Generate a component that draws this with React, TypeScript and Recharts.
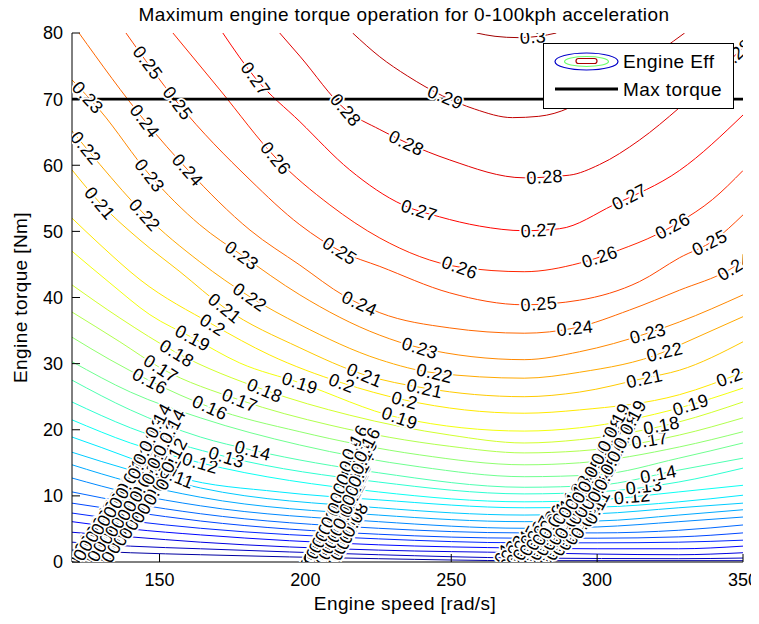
import React from "react";
import { LineChart, Line, XAxis, YAxis } from "recharts";

const FONT = "'Liberation Sans', Arial, Helvetica, sans-serif";

const speedTicks = [150, 200, 250, 300, 350];
const torqueTicks = [0, 10, 20, 30, 40, 50, 60, 70, 80];
const maxTorque = [[120, 70], [350, 70]];

const levels = [
  0.01, 0.02, 0.03, 0.04, 0.05, 0.06, 0.07, 0.08, 0.09, 0.1,
  0.11, 0.12, 0.13, 0.14, 0.15, 0.16, 0.17, 0.18, 0.19, 0.2,
  0.21, 0.22, 0.23, 0.24, 0.25, 0.26, 0.27, 0.28, 0.29, 0.3,
];

// efficiency contours, [speed rad/s, torque Nm]
const c01 = [[120, 1.8], [140, 1.4], [164, 1.1], [225, 0.5], [275, 0.2], [350, 0.2]];
const c02 = [[120, 3.0], [140, 2.4], [164, 2.0], [225, 1.1], [275, 0.6], [328, 0.5], [350, 0.6]];
const c03 = [[120, 4.5], [140, 3.8], [164, 3.0], [225, 1.8], [275, 1.4], [300, 1.2], [328, 1.1], [350, 1.4]];
const c04 = [[120, 6.1], [140, 5.0], [164, 4.1], [225, 2.6], [275, 2.1], [300, 2.0], [328, 2.0], [350, 2.4]];
const c05 = [[120, 7.4], [140, 6.2], [164, 5.1], [225, 3.5], [275, 2.9], [300, 2.9], [328, 3.0], [350, 3.3]];
const c06 = [[120, 8.9], [140, 7.6], [164, 6.2], [225, 4.2], [275, 3.6], [300, 3.6], [328, 3.8], [350, 4.4]];
const c07 = [[120, 10.6], [140, 8.9], [164, 7.3], [225, 5.1], [275, 4.4], [300, 4.4], [328, 4.8], [350, 5.6]];
const c08 = [[120, 12.7], [140, 10.4], [164, 8.5], [225, 6.1], [275, 5.1], [300, 5.3], [328, 6.1], [350, 6.8]];
const c09 = [[120, 14.7], [140, 12.1], [164, 9.8], [225, 7.1], [275, 6.1], [300, 6.2], [328, 7.1], [350, 7.9]];
const c10 = [[120, 16.6], [140, 13.9], [164, 11.2], [225, 8.2], [275, 7.1], [300, 7.3], [328, 8.2], [350, 8.9]];
const c11 = [[120, 18.9], [140, 15.7], [156, 12.9], [191, 10.6], [225, 9.4], [275, 8.2], [300, 8.3], [328, 9.1], [350, 10.1]];
const c12 = [[120, 21.5], [140, 18.0], [164, 15.0], [225, 10.6], [275, 9.1], [300, 9.4], [328, 10.6], [350, 11.6]];
const c13 = [[120, 24.2], [140, 20.3], [173, 15.9], [225, 12.1], [275, 10.3], [300, 10.6], [328, 12.1], [350, 14.2]];
const c14 = [[120, 27.5], [140, 23.0], [164, 18.9], [182, 16.9], [225, 13.5], [275, 11.3], [300, 11.6], [328, 13.9], [350, 15.7]];
const c15 = [[120, 30.3], [140, 25.7], [164, 21.8], [198, 17.7], [239, 14.4], [275, 12.9], [300, 13.2], [328, 15.7], [350, 18.0]];
const c16 = [[120, 34.0], [133, 30.6], [146.7, 27.4], [167.3, 23.4], [198.1, 19.7], [239.2, 16.2], [275, 14.7], [294, 15.0], [328.2, 17.4], [350, 19.7]];
const c17 = [[120, 37.8], [136.4, 33.3], [150.5, 29.3], [177.5, 24.5], [208.4, 20.7], [249.5, 17.5], [275, 16.5], [294, 16.8], [328.2, 19.2], [350, 21.8]];
const c18 = [[120, 41.9], [136.4, 36.9], [156, 31.6], [186.1, 26.0], [215.2, 22.2], [249.5, 19.2], [275, 18.0], [294, 18.5], [328.2, 21.2], [350, 24.2]];
const c19 = [[120, 47.0], [133, 42.2], [146.7, 37.4], [161.4, 33.9], [177.5, 30.1], [198.1, 27.1], [232.3, 21.8], [275, 19.8], [294, 20.3], [328.2, 23.3], [350, 26.3]];
const c20 = [[120, 52.0], [129.6, 48.0], [143.3, 42.7], [168.3, 35.9], [187.8, 31.3], [212.5, 27.1], [234, 24.5], [275, 22.5], [294, 23.0], [328.2, 25.3], [350, 28.7]];
const c21 = [[120, 59.3], [129.6, 54.3], [143.3, 48.7], [157, 43.9], [172.4, 38.4], [198.1, 32.4], [220.3, 28.3], [240.9, 26.3], [275, 25.0], [294, 25.7], [316.2, 27.8], [328.2, 29.0], [350, 33.3]];
const c22 = [[120, 65.2], [129.6, 60.1], [145, 52.5], [163.8, 45.4], [181, 40.1], [198.1, 35.9], [225.5, 30.6], [244.3, 28.6], [275, 27.8], [294, 28.7], [323.1, 31.8], [328.2, 32.8], [350, 37.1]];
const c23 = [[120, 72.9], [129.6, 68.3], [146.7, 58.5], [163.8, 51.0], [178.2, 46.4], [198.1, 40.4], [225.5, 34.3], [239.2, 32.4], [275, 30.6], [294, 31.8], [317.3, 34.6], [328.2, 36.3], [350, 40.4]];
const c24 = [[122.4, 80], [145, 66.7], [159.7, 59.3], [181, 50.2], [198.1, 44.9], [213.5, 40.2], [225.5, 37.7], [249.5, 35.4], [275, 34.6], [292.3, 35.4], [311.1, 38.1], [328.2, 41.1], [345.3, 44.2], [350, 45.5]];
const c25 = [[138.5, 80], [156.3, 69.4], [181, 57.8], [198.1, 51.0], [212.5, 46.9], [225.5, 44.7], [249.5, 40.7], [275, 38.9], [294, 39.6], [314.5, 42.4], [328.2, 46.0], [340.2, 48.7], [350, 52.5]];
const c26 = [[154.6, 80], [170.7, 71.4], [189.9, 61.1], [208.4, 54.0], [225.5, 49.0], [252.9, 44.6], [275, 43.9], [294, 45.2], [307.7, 47.2], [320.3, 49.5], [328.2, 51.4], [339.5, 54.8], [350, 59.2]];
const c27 = [[171.7, 80], [183, 73.1], [198.1, 66.6], [215.2, 59.3], [233.4, 54.0], [246, 52.2], [259.7, 50.8], [275, 50.1], [287.1, 50.4], [305.6, 54.0], [328.2, 59.2], [350, 67.6]];
const c28 = [[191.2, 80], [198.1, 76.5], [213.8, 68.4], [225.5, 65.4], [234.7, 63.4], [249.5, 60.8], [275, 58.1], [290.5, 58.5], [300.8, 60.1], [314.5, 63.8], [328.2, 68.7], [350, 77.8]];
const c29 = [[216.2, 80], [225.5, 76.4], [235, 73.5], [247, 70.5], [258, 68.5], [271, 67.2], [280, 67.4], [290.5, 68.7], [300.8, 71.6], [314.5, 75.2], [330, 80]];
const c30 = [[258.7, 80], [265, 79.5], [273, 79.3], [280, 79.5], [286, 80]];

const contourPts = [
  c01, c02, c03, c04, c05, c06, c07, c08, c09, c10,
  c11, c12, c13, c14, c15, c16, c17, c18, c19, c20,
  c21, c22, c23, c24, c25, c26, c27, c28, c29, c30,
];

// clabel spots that follow the line, [level, speed]
const lineLabels: [number, number][] = [
  [0.3, 278],
  [0.29, 248],
  [0.28, 213.8], [0.28, 234.7], [0.28, 282], [0.28, 347.5],
  [0.27, 183], [0.27, 239], [0.27, 280], [0.27, 311],
  [0.26, 189.9], [0.26, 252.9], [0.26, 300.8], [0.26, 325.8],
  [0.25, 146], [0.25, 156.3], [0.25, 211.8], [0.25, 280], [0.25, 338.5],
  [0.24, 145], [0.24, 159.7], [0.24, 218.6], [0.24, 292.3], [0.24, 347],
  [0.23, 125.5], [0.23, 146.7], [0.23, 178.2], [0.23, 239.2], [0.23, 317.3],
  [0.22, 124.8], [0.22, 145], [0.22, 181], [0.22, 244.3], [0.22, 323.1],
  [0.21, 129.6], [0.21, 172.4], [0.21, 220.3], [0.21, 240.9], [0.21, 316.2],
  [0.2, 168.3], [0.2, 212.5], [0.2, 234], [0.2, 345.3],
  [0.19, 161.4], [0.19, 198.1], [0.19, 232.3], [0.19, 332],
  [0.18, 156], [0.18, 186.1], [0.18, 322],
  [0.17, 150.5], [0.17, 177.5], [0.17, 318],
  [0.16, 146.7], [0.16, 167.3],
  [0.14, 182], [0.14, 321],
  [0.13, 173], [0.13, 316],
  [0.12, 164], [0.12, 312],
  [0.11, 156],
];

// piled-up labels at the three gear-change bands, one set per level from 0.01
const band1 = [
  [122.7, 127.5, 132.3], [124.8, 129.6, 134.4], [126.8, 131.6, 136.4], [128.9, 133.7, 138.5], [130.9, 135.7, 140.5],
  [133.0, 137.8, 142.6], [135.1, 139.9, 144.7], [137.1, 141.9, 146.7], [139.2, 144.0, 148.8], [141.2, 146.0, 150.8],
  [143.3, 148.1, 152.9], [145.3, 150.1, 154.9], [147.4, 152.2], [149.5, 154.3],
];
const band2 = [
  [201.5, 205.6, 209.7], [202.5, 206.6, 210.7], [203.6, 207.7, 211.8], [204.6, 208.7, 212.8], [205.6, 209.7, 213.8],
  [206.6, 210.8, 214.9], [207.7, 211.8, 215.9], [208.7, 212.8, 216.9], [209.7, 213.8], [210.8, 214.9],
  [211.8, 215.9], [212.8, 216.9], [213.8, 218.0], [214.9, 219.0], [215.9, 220.0],
  [216.9, 221.0],
];
const band3 = [
  [266.6, 272.1, 277.6], [268.8, 274.3, 279.8], [271.1, 276.6, 282.1], [273.3, 278.8, 284.3], [275.5, 281.0, 286.5],
  [277.8, 283.3, 288.8], [280.0, 285.5, 291.0], [282.2, 287.7, 293.2], [284.4, 289.9, 295.4], [286.7, 292.2, 297.7],
  [288.9, 294.4, 299.9], [291.1, 296.6], [293.4, 298.9], [295.6, 301.1], [297.8, 303.3],
  [300.0, 305.5], [302.3, 307.8], [304.5, 310.0], [306.7, 312.2],
];

// matlab jet colormap
function jet(level: number) {
  const t = level / 0.31;
  const c = (v: number) => Math.round(255 * Math.max(0, Math.min(1, v)));
  return `rgb(${c(1.5 - Math.abs(4 * t - 3))},${c(1.5 - Math.abs(4 * t - 2))},${c(1.5 - Math.abs(4 * t - 1))})`;
}

const fmt = (v: number) => String(Number(v.toFixed(2)));

function labelDot(level: number, spots: number[], steep: number[]) {
  return (props: any) => {
    const { index, points } = props;
    if (index !== 0 || !points || points.length < 2) return <g key={`e${index}`} />;
    const out: React.ReactNode[] = [];
    const put = (sx: number, band: boolean, key: string) => {
      for (let i = 0; i < points.length - 1; i++) {
        const a = points[i];
        const b = points[i + 1];
        const ax = a.payload.x;
        const bx = b.payload.x;
        if (sx < ax || sx > bx) continue;
        const t = bx === ax ? 0 : (sx - ax) / (bx - ax);
        const px = a.x + t * (b.x - a.x);
        const py = a.y + t * (b.y - a.y);
        const ang = band ? -62 : (Math.atan2(b.y - a.y, b.x - a.x) * 180) / Math.PI;
        out.push(
          <text
            key={key}
            transform={`translate(${px.toFixed(1)},${py.toFixed(1)}) rotate(${ang.toFixed(1)})`}
            textAnchor="middle"
            dy="0.36em"
            fontSize={18}
            letterSpacing={0.4}
            fontFamily={FONT}
            fill="#000"
            stroke="#fff"
            strokeWidth={3.5}
            paintOrder="stroke"
          >
            {fmt(level)}
          </text>
        );
        return;
      }
    };
    spots.forEach((s, j) => put(s, false, `s${j}`));
    steep.forEach((s, j) => put(s, true, `b${j}`));
    return <g key="labels">{out}</g>;
  };
}

const XTick = (props: any) => {
  const { x, y, payload } = props;
  return (
    <g>
      <line x1={x} x2={x} y1={y} y2={y - 8} stroke="#000" />
      <text x={x} y={y + 24} textAnchor="middle" fontSize={18} fontFamily={FONT} fill="#000">
        {payload.value}
      </text>
    </g>
  );
};

const YTick = (props: any) => {
  const { x, y, payload } = props;
  return (
    <g>
      <line x1={x} x2={x + 8} y1={y} y2={y} stroke="#000" />
      <text x={x - 9} y={y} dy="0.36em" textAnchor="end" fontSize={18} fontFamily={FONT} fill="#000">
        {payload.value}
      </text>
    </g>
  );
};

export default function App() {
  const series = levels.map((lv, i) => {
    const idx = Math.round(lv * 100) - 1;
    const steep: number[] = [];
    [band1, band2, band3].forEach((b) => {
      if (b[idx]) steep.push(...b[idx]);
    });
    return {
      lv,
      data: contourPts[i].map(([x, y]) => ({ x, y })),
      spots: lineLabels.filter(([l]) => Math.abs(l - lv) < 1e-6).map(([, x]) => x),
      steep,
    };
  });
  const maxData = maxTorque.map(([x, y]) => ({ x, y }));
  const txt = { fontFamily: FONT, fontSize: 19, letterSpacing: 0.4, fill: "#000" };

  return (
    <div style={{ position: "relative", width: 751, height: 616 }}>
      <LineChart width={751} height={616} margin={{ top: 25, right: 16, bottom: 32, left: 0 }}>
        <XAxis
          type="number"
          dataKey="x"
          domain={[120, 350]}
          ticks={speedTicks}
          allowDataOverflow
          stroke="#000"
          tickLine={false}
          tickSize={0}
          tickMargin={0}
          tick={XTick}
          height={30}
        />
        <YAxis
          type="number"
          domain={[0, 80]}
          ticks={torqueTicks}
          allowDataOverflow
          stroke="#000"
          tickLine={false}
          tickSize={0}
          tickMargin={0}
          tick={YTick}
          width={64}
        />
        {series.map((s) => (
          <Line
            key={`c${s.lv}`}
            data={s.data}
            dataKey="y"
            type="monotone"
            stroke={jet(s.lv)}
            strokeWidth={1}
            dot={false}
            activeDot={false}
            isAnimationActive={false}
          />
        ))}
        {series.map((s) => (
          <Line
            key={`l${s.lv}`}
            data={s.data}
            dataKey="y"
            type="monotone"
            stroke="none"
            dot={labelDot(s.lv, s.spots, s.steep)}
            activeDot={false}
            isAnimationActive={false}
          />
        ))}
        <Line
          data={maxData}
          dataKey="y"
          stroke="#000"
          strokeWidth={2.6}
          dot={false}
          activeDot={false}
          isAnimationActive={false}
        />
      </LineChart>
      {/* overlay in page pixels: title, axis titles and the legend */}
      <svg
        width={759}
        height={624}
        style={{ position: "absolute", left: -8, top: -8, pointerEvents: "none" }}
      >
        <text x={404} y={21} textAnchor="middle" {...txt}>
          Maximum engine torque operation for 0-100kph acceleration
        </text>
        <text x={405} y={610} textAnchor="middle" {...txt}>
          Engine speed [rad/s]
        </text>
        <text transform="translate(27,297.5) rotate(-90)" textAnchor="middle" {...txt}>
          Engine torque [Nm]
        </text>
        <g>
          <rect x={543.5} y={43.5} width={190} height={65} fill="#fff" stroke="#000" />
          <ellipse cx={586.5} cy={61.5} rx={31.5} ry={8.5} fill="none" stroke="rgb(0,0,200)" strokeWidth={1.2} />
          <ellipse cx={586.5} cy={61.5} rx={22} ry={5} fill="none" stroke="rgb(110,255,110)" strokeWidth={1.2} />
          <rect x={576} y={58.5} width={21} height={5} rx={2.5} fill="none" stroke="rgb(170,0,0)" strokeWidth={1.2} />
          <text x={623} y={68} {...txt}>
            Engine Eff
          </text>
          <line x1={555} x2={618} y1={89} y2={89} stroke="#000" strokeWidth={3} />
          <text x={623} y={96} {...txt}>
            Max torque
          </text>
        </g>
      </svg>
    </div>
  );
}
